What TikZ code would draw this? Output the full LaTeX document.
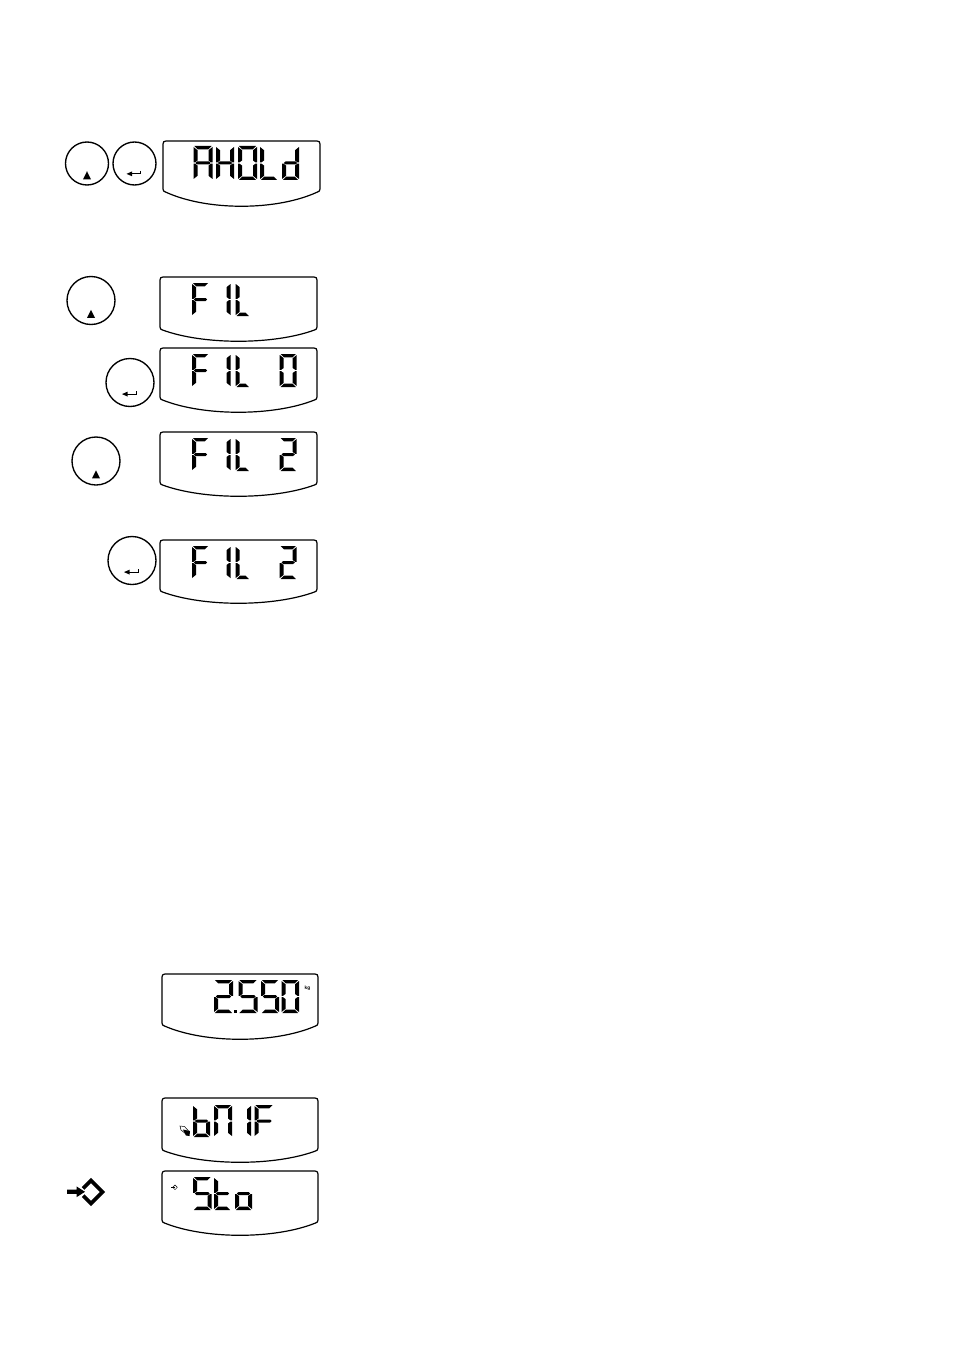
\documentclass[tikz,border=0pt]{standalone}
\usepackage{fontspec}
\setmainfont{Liberation Sans}
\usetikzlibrary{calc}
\tikzset{
  lcdframe/.style={draw=black,line width=1.2pt,line join=round,fill=white},
  btn/.style={draw=black,line width=1.35pt,circle,inner sep=0pt,fill=white},
  seg/.style={fill=black,draw=none},
  glyph/.style={fill=black,draw=none},
  lcdtext/.style={text opacity=0,font=\large,inner sep=0pt},
}
% seven-segment elements, read \X \Y \W \H set by \LcdChar
\def\T{4}
\newcommand{\SegA}{\fill[seg] (\X+.9,\Y) -- (\X+\W-.9,\Y) -- (\X+\W-\T-.3,\Y+\T-.6) -- (\X+\T+.3,\Y+\T-.6) -- cycle;}
\newcommand{\SegB}{\fill[seg] (\X+\W,\Y+1) -- (\X+\W,\Y+\H/2-.6) -- (\X+\W-1.4,\Y+\H/2-.6) -- (\X+\W-\T,\Y+\H/2-2.5) -- (\X+\W-\T,\Y+\T+.2) -- cycle;}
\newcommand{\SegC}{\fill[seg] (\X+\W,\Y+\H/2+.6) -- (\X+\W,\Y+\H-1) -- (\X+\W-\T,\Y+\H-\T-.2) -- (\X+\W-\T,\Y+\H/2+2.5) -- (\X+\W-1.4,\Y+\H/2+.6) -- cycle;}
\newcommand{\SegD}{\fill[seg] (\X+.9,\Y+\H) -- (\X+\W-.9,\Y+\H) -- (\X+\W-\T-.3,\Y+\H-\T+.6) -- (\X+\T+.3,\Y+\H-\T+.6) -- cycle;}
\newcommand{\SegE}{\fill[seg] (\X,\Y+\H/2+.6) -- (\X,\Y+\H-1) -- (\X+\T,\Y+\H-\T-.2) -- (\X+\T,\Y+\H/2+2.5) -- (\X+1.4,\Y+\H/2+.6) -- cycle;}
\newcommand{\SegF}{\fill[seg] (\X,\Y+1) -- (\X,\Y+\H/2-.6) -- (\X+1.4,\Y+\H/2-.6) -- (\X+\T,\Y+\H/2-2.5) -- (\X+\T,\Y+\T+.2) -- cycle;}
\newcommand{\SegG}{\fill[seg] (\X+1.9,\Y+\H/2) -- (\X+3.5,\Y+\H/2-1.5) -- (\X+\W-3.5,\Y+\H/2-1.5) -- (\X+\W-1.9,\Y+\H/2) -- (\X+\W-3.5,\Y+\H/2+1.5) -- (\X+3.5,\Y+\H/2+1.5) -- cycle;}
\newcommand{\LcdChar}[5]{\def\X{#1}\def\Y{#2}\def\W{#3}\def\H{#4}#5}
\newcommand{\GlA}{\SegA\SegB\SegC\SegE\SegF\SegG}
\newcommand{\GlH}{\SegB\SegC\SegE\SegF\SegG}
\newcommand{\GlO}{\SegA\SegB\SegC\SegD\SegE\SegF}
\newcommand{\GlL}{\SegD\SegE\SegF}
\newcommand{\Gld}{\SegB\SegC\SegD\SegE\SegG}
\newcommand{\GlF}{\SegA\SegE\SegF\SegG}
\newcommand{\GlI}{\SegB\SegC}
\newcommand{\GlTwo}{\SegA\SegB\SegD\SegE\SegG}
\newcommand{\GlFive}{\SegA\SegC\SegD\SegF\SegG}
\newcommand{\Glb}{\SegC\SegD\SegE\SegF\SegG}
\newcommand{\GlN}{\SegA\SegB\SegC\SegE\SegF}
\newcommand{\Glt}{\SegD\SegE\SegF\SegG}
\newcommand{\Glo}{\SegC\SegD\SegE\SegG}
% display outline: name, x0, x1, top, side end, lowest, text
\newcommand{\LcdBox}[7]{%
  \pgfmathsetmacro{\ctl}{(#6-0.25*#5)/0.75}%
  \draw[lcdframe] (#2+3,#4) -- (#3-3,#4) .. controls (#3-1,#4) and (#3,#4+1) .. (#3,#4+3)
    -- (#3,#5-2) .. controls (#3,#5) and (#3-1,#5+.6) .. (#3-2.5,#5+1)
    .. controls ({(#2+#3)/2+35},\ctl) and ({(#2+#3)/2-35},\ctl) .. (#2+2.5,#5+1)
    .. controls (#2+1,#5+.6) and (#2,#5) .. (#2,#5-2) -- (#2,#4+3)
    .. controls (#2,#4+1) and (#2+1,#4) .. (#2+3,#4) -- cycle;
  \node[lcdtext] (#1) at ({(#2+#3)/2},{#4+25}) {#7};}
\newcommand{\UpKey}[3]{%
  \node[btn,minimum size=#3*2pt] (#1) at (#2) {};
  \fill[glyph] ($(#1)+(-4,#3*.62+2.6)$) -- ($(#1)+(4,#3*.62+2.6)$) -- ($(#1)+(0,#3*.62-5.6)$) -- cycle;}
\newcommand{\EnterKey}[3]{%
  \node[btn,minimum size=#3*2pt] (#1) at (#2) {};
  \draw[line width=.75pt] ($(#1)+(6,#3*.5-3.4)$) -- ($(#1)+(6,#3*.5-.4)$) -- ($(#1)+(-3,#3*.5-.4)$);
  \fill[glyph] ($(#1)+(-8,#3*.5-.4)$) -- ($(#1)+(-2.5,#3*.5-2.8)$) -- ($(#1)+(-2.5,#3*.5+2)$) -- cycle;}
\begin{document}
\begin{tikzpicture}[x=1pt,y=-1pt]
\useasboundingbox[fill=white] (0,0) rectangle (954,1351);
% keys
\UpKey{k1}{87,163.5}{21.5}
\EnterKey{k2}{134.5,163.5}{21.5}
\UpKey{k3}{91,300.5}{24}
\EnterKey{k4}{130,382.5}{24}
\UpKey{k5}{96,461}{24}
\EnterKey{k6}{132,560.5}{24}
% displays
\LcdBox{d1}{163}{320}{141}{191}{206}{AHOLd}
\LcdBox{d2}{160}{317}{277}{329}{341}{FIL}
\LcdBox{d3}{160}{317}{348}{399}{412}{FIL 0}
\LcdBox{d4}{160}{317}{432}{484}{496}{FIL 2}
\LcdBox{d5}{160}{317}{540}{591}{603}{FIL 2}
\LcdBox{d6}{162}{318}{974}{1025}{1039}{2.550}
\LcdBox{d7}{162}{318}{1098}{1150}{1162}{bM1F}
\LcdBox{d8}{162}{318}{1171}{1222}{1235}{Sto}
% AHOLd
\LcdChar{193.5}{146}{19}{34}{\GlA}
\LcdChar{216}{146}{18}{34}{\GlH}
\LcdChar{238}{146}{19}{34}{\GlO}
\LcdChar{260}{146}{18}{34}{\GlL}
\LcdChar{282}{146}{17}{34}{\Gld}
% FIL
\LcdChar{192}{283}{17}{33}{\GlF}
\LcdChar{213.5}{283}{17}{33}{\GlI}
\LcdChar{235.7}{283}{14}{33}{\GlL}
% FIL 0
\LcdChar{192}{354}{17}{33}{\GlF}
\LcdChar{213.5}{354}{17}{33}{\GlI}
\LcdChar{235.7}{354}{14}{33}{\GlL}
\LcdChar{279.7}{354}{17}{33}{\GlO}
% FIL 2
\LcdChar{192}{438}{17}{33}{\GlF}
\LcdChar{213.5}{438}{17}{33}{\GlI}
\LcdChar{235.7}{438}{14}{33}{\GlL}
\LcdChar{279.7}{438}{17}{33}{\GlTwo}
% FIL 2
\LcdChar{192}{546}{17}{33}{\GlF}
\LcdChar{213.5}{546}{17}{33}{\GlI}
\LcdChar{235.7}{546}{14}{33}{\GlL}
\LcdChar{279.7}{546}{17}{33}{\GlTwo}
% 2.550
\LcdChar{214}{980}{19}{33}{\GlTwo}
\fill[seg] (234.4,1010) rectangle (237,1013);
\LcdChar{238.5}{980}{19}{33}{\GlFive}
\LcdChar{261}{980}{18}{33}{\GlFive}
\LcdChar{281.5}{980}{17.5}{33}{\GlO}
\node[font=\bfseries\fontsize{4.8}{5}\selectfont,inner sep=0pt] (kg) at (307.5,988) {kg};
% bMIF
\LcdChar{193}{1105}{17}{32}{\Glb}
\LcdChar{214}{1105}{18}{32}{\GlN}
\LcdChar{234}{1105}{17}{32}{\GlI}
\LcdChar{254.5}{1105}{19}{32}{\GlF}
\draw[line width=.5pt,fill=white] (180,1126) -- (184.5,1126.5) -- (189,1131.5) -- (186,1134) -- (181,1130) -- cycle;
\fill[glyph] (183,1129.5) -- (190,1131) -- (189.5,1136) -- (186,1135.5) -- cycle;
% Sto
\LcdChar{193}{1177}{18.5}{33}{\GlFive}
\LcdChar{214}{1177}{17}{33}{\Glt}
\LcdChar{235}{1177}{17}{33}{\Glo}
\draw[line width=.45pt] (175,1185) -- (177.3,1187.3) -- (175,1189.6) -- (172.7,1187.3) -- cycle;
\draw[line width=.6pt] (171,1187.3) -- (174.5,1187.3);
% storage key symbol
\draw[line width=3.8pt,miter limit=10] (91,1180.5) -- (102.5,1192) -- (91,1203.5) -- (79.5,1192) -- cycle;
\fill[white] (74,1184) -- (78.5,1184) -- (86.5,1192) -- (78.5,1200) -- (74,1200) -- cycle;
\fill[glyph] (67,1189.7) -- (76.5,1189.7) -- (76.5,1186.4) -- (85,1191.8) -- (76.5,1197.2) -- (76.5,1193.9) -- (67,1193.9) -- cycle;
\end{tikzpicture}
\end{document}
